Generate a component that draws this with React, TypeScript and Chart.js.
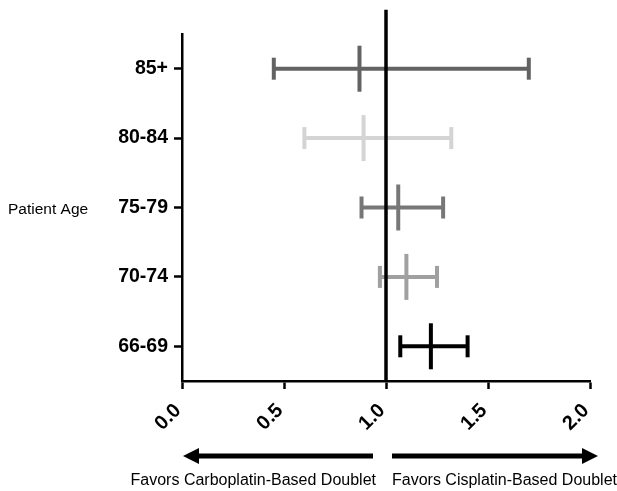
import React, { useEffect, useRef } from "react";
import { Chart, registerables } from "chart.js";

Chart.register(...registerables);

const categories = ["66-69", "70-74", "75-79", "80-84", "85+"];
const estimates = [1.22, 1.1, 1.06, 0.89, 0.87];
const lowerCI = [1.07, 0.97, 0.88, 0.6, 0.45];
const upperCI = [1.4, 1.25, 1.28, 1.32, 1.7];
const colors = ["#000000", "#a0a0a0", "#777777", "#d4d4d4", "#636363"];
const xTicks = [0, 0.5, 1.0, 1.5, 2.0];
const referenceValue = 1.0;
const referenceSpan = [0.5, 5.85];
const yAxisTitle = "Patient Age";
const leftLabel = "Favors Carboplatin-Based Doublet";
const rightLabel = "Favors Cisplatin-Based Doublet";

const FONT = "'Liberation Sans', Arial, sans-serif";

const annotations = {
  id: "annotations",
  afterDraw(chart: any) {
    const { ctx, scales } = chart;
    const xs = scales.x;
    const ys = scales.y;
    const x0 = xs.getPixelForValue(xTicks[0]);
    const x1 = xs.getPixelForValue(referenceValue);
    const x2 = xs.getPixelForValue(xTicks[xTicks.length - 1]);
    ctx.save();
    ctx.fillStyle = "#000";
    ctx.font = `15.5px ${FONT}`;
    ctx.textAlign = "left";
    ctx.textBaseline = "middle";
    ctx.fillText(yAxisTitle, 8, (ys.top + ys.bottom) / 2 + 2);

    const ay = 456;
    ctx.strokeStyle = "#000";
    ctx.fillStyle = "#000";
    ctx.lineWidth = 5;
    const lStart = x1 - 13;
    const lTip = x0 + 1;
    ctx.beginPath();
    ctx.moveTo(lStart, ay);
    ctx.lineTo(lTip + 12, ay);
    ctx.stroke();
    ctx.beginPath();
    ctx.moveTo(lTip, ay);
    ctx.lineTo(lTip + 16, ay - 8);
    ctx.lineTo(lTip + 16, ay + 8);
    ctx.closePath();
    ctx.fill();
    const rStart = x1 + 6;
    const rTip = x2 + 8;
    ctx.beginPath();
    ctx.moveTo(rStart, ay);
    ctx.lineTo(rTip - 12, ay);
    ctx.stroke();
    ctx.beginPath();
    ctx.moveTo(rTip, ay);
    ctx.lineTo(rTip - 16, ay - 8);
    ctx.lineTo(rTip - 16, ay + 8);
    ctx.closePath();
    ctx.fill();

    ctx.font = `16px ${FONT}`;
    ctx.textBaseline = "middle";
    ctx.textAlign = "right";
    ctx.fillText(leftLabel, x1 - 10, 481);
    ctx.textAlign = "left";
    ctx.fillText(rightLabel, x1 + 6, 481);
    ctx.restore();
  },
};

export default function App() {
  const ref = useRef<HTMLCanvasElement | null>(null);
  useEffect(() => {
    if (!ref.current) return;
    const datasets: any[] = [];
    datasets.push({
      type: "line",
      data: referenceSpan.map((y) => ({ x: referenceValue, y })),
      borderColor: "#000",
      borderWidth: 3.5,
      pointRadius: 0,
      clip: false,
      order: 0,
    });
    datasets.push({
      type: "scatter",
      data: categories.map((_, i) => ({ x: estimates[i], y: i + 1 })),
      pointStyle: "line",
      rotation: 90,
      pointRadius: 23,
      borderWidth: 4,
      pointBorderColor: colors,
      borderColor: colors,
      backgroundColor: colors,
      order: 1,
    });
    categories.forEach((_, i) => {
      datasets.push({
        type: "line",
        data: [
          { x: lowerCI[i], y: i + 1 },
          { x: upperCI[i], y: i + 1 },
        ],
        borderColor: colors[i],
        borderWidth: 4,
        pointStyle: "line",
        rotation: 90,
        pointRadius: 11,
        pointBorderWidth: 4,
        pointBorderColor: colors[i],
        order: 2,
      });
    });

    const chart = new Chart(ref.current, {
      type: "scatter",
      data: { datasets },
      plugins: [annotations],
      options: {
        animation: false,
        responsive: true,
        maintainAspectRatio: false,
        layout: { padding: { top: 34, right: 27, left: 0, bottom: 0 } },
        plugins: { legend: { display: false }, tooltip: { enabled: false } },
        scales: {
          x: {
            type: "linear",
            min: 0,
            max: 2,
            afterBuildTicks: (s: any) => {
              s.ticks = xTicks.map((v) => ({ value: v }));
            },
            afterFit: (s: any) => {
              s.height = 110;
            },
            border: { display: true, color: "#000", width: 2.5 },
            grid: {
              display: true,
              drawOnChartArea: false,
              drawTicks: true,
              tickLength: 8,
              tickWidth: 2.5,
              tickColor: "#000",
            },
            ticks: {
              color: "#000",
              minRotation: 45,
              maxRotation: 45,
              padding: 6,
              font: { family: FONT, size: 20, weight: "bold" },
              callback: (v: any) => Number(v).toFixed(1) + " ",
            },
          },
          y: {
            type: "linear",
            min: 0.5,
            max: 5.5,
            afterBuildTicks: (s: any) => {
              s.ticks = categories.map((_, i) => ({ value: i + 1 }));
            },
            afterFit: (s: any) => {
              s.width = 182;
            },
            border: { display: true, color: "#000", width: 2.5 },
            grid: {
              display: true,
              drawOnChartArea: false,
              drawTicks: true,
              tickLength: 8,
              tickWidth: 2.5,
              tickColor: "#000",
            },
            ticks: {
              color: "#000",
              padding: 6,
              font: { family: FONT, size: 19.5, weight: "bold" },
              callback: (v: any) => categories[Math.round(Number(v)) - 1] ?? "",
            },
          },
        },
      },
    });
    return () => chart.destroy();
  }, []);
  return (
    <div style={{ position: "fixed", left: 0, top: 0, width: 617, height: 491, background: "#fff" }}>
      <canvas ref={ref} />
    </div>
  );
}
